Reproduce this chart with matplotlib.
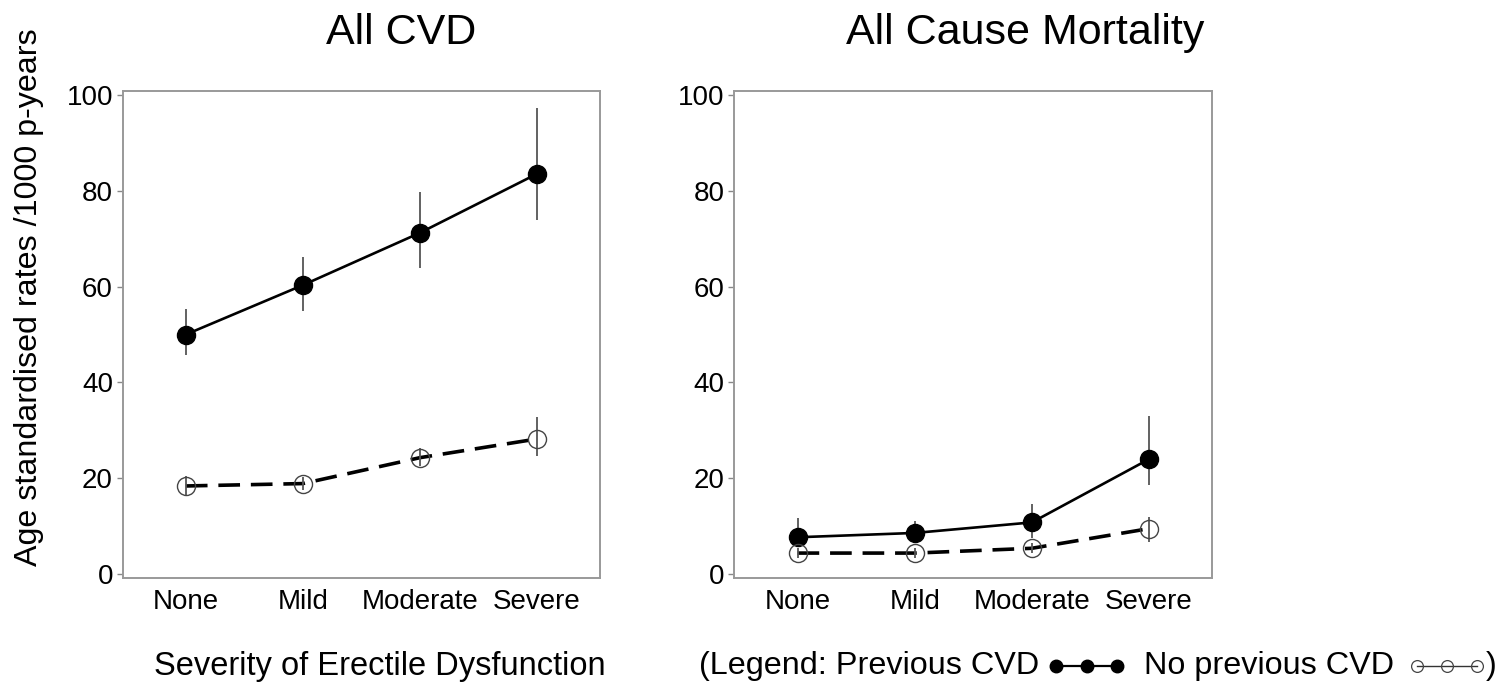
import matplotlib
matplotlib.use("Agg")
import matplotlib.pyplot as plt
from matplotlib.lines import Line2D

plt.rcParams['font.family'] = ['Liberation Sans', 'DejaVu Sans']

# ED severity groups and age standardised rates (/1000 p-years) with 95% CI
severity = ['None', 'Mild', 'Moderate', 'Severe']

cvd_prev = [50.0, 60.3, 71.2, 83.5]
cvd_prev_lo = [45.7, 55.0, 63.9, 73.8]
cvd_prev_hi = [55.3, 66.1, 79.7, 97.3]
cvd_noprev = [18.4, 18.9, 24.3, 28.2]
cvd_noprev_lo = [16.6, 17.5, 22.5, 24.6]
cvd_noprev_hi = [20.4, 20.3, 26.4, 32.8]

mort_prev = [7.7, 8.6, 10.8, 24.0]
mort_prev_lo = [5.8, 6.5, 7.5, 18.6]
mort_prev_hi = [11.7, 11.0, 14.7, 32.9]
mort_noprev = [4.4, 4.4, 5.4, 9.5]
mort_noprev_lo = [3.4, 3.4, 4.4, 6.8]
mort_noprev_hi = [5.4, 5.4, 6.4, 12.0]

W, H = 1502, 691
fig = plt.figure(figsize=(W / 100, H / 100), dpi=100)

def px(x, y):
    return x / W, 1 - y / H

def panel(rect, prev, prev_lo, prev_hi, noprev, noprev_lo, noprev_hi):
    ax = fig.add_axes(rect)
    xs = list(range(1, len(severity) + 1))
    ax.vlines(xs, noprev_lo, noprev_hi, color='#555555', lw=1.3, zorder=3)
    ax.vlines(xs, prev_lo, prev_hi, color='#555555', lw=1.3, zorder=1)
    ax.plot(xs, prev, color='black', lw=1.9, marker='o', ms=13,
            mfc='black', mec='black', zorder=2)
    ax.plot(xs, noprev, color='black', lw=2.6, linestyle=(0, (6, 3)), zorder=2)
    ax.plot(xs, noprev, linestyle='none', marker='o', ms=13, mfc='none',
            mec='#444444', mew=1.0, zorder=4)
    ax.set_xlim(0.46, 4.54)
    ax.set_ylim(-0.8, 100.8)
    ax.set_xticks(xs)
    ax.set_xticklabels(severity, fontsize=20)
    ax.set_yticks(range(0, 101, 20))
    ax.tick_params(axis='x', length=0, pad=8)
    ax.tick_params(axis='y', length=4, width=1, color='#888888', labelsize=20, pad=3)
    for s in ax.spines.values():
        s.set_color('#999999')
        s.set_linewidth(1.4)
    return ax

l, b = px(122.7, 578)
r, t = px(600, 91)
panel([l, b, r - l, t - b], cvd_prev, cvd_prev_lo, cvd_prev_hi,
      cvd_noprev, cvd_noprev_lo, cvd_noprev_hi)

l, b = px(734.3, 578)
r, t = px(1212.3, 91)
panel([l, b, r - l, t - b], mort_prev, mort_prev_lo, mort_prev_hi,
      mort_noprev, mort_noprev_lo, mort_noprev_hi)

# titles and shared labels
fig.text(*px(401, 33), 'All CVD', fontsize=31, ha='center', va='center')
fig.text(*px(1025, 33), 'All Cause Mortality', fontsize=31, ha='center', va='center')
fig.text(*px(29, 297), 'Age standardised rates /1000 p-years', fontsize=23.2,
         rotation=90, ha='center', va='center')
fig.text(*px(380, 666), 'Severity of Erectile Dysfunction', fontsize=23.5,
         ha='center', va='center')

# inline legend
fig.text(*px(699, 666), '(Legend: Previous CVD', fontsize=23.3, ha='left', va='center')
fig.add_artist(Line2D([p / W for p in (1056, 1087, 1117)], [1 - 666 / H] * 3,
                      transform=fig.transFigure, color='black', lw=1.6,
                      marker='o', ms=9, mfc='black', mec='black'))
fig.text(*px(1144, 666), 'No previous CVD', fontsize=23.3, ha='left', va='center')
fig.add_artist(Line2D([p / W for p in (1417, 1447, 1477)], [1 - 666 / H] * 3,
                      transform=fig.transFigure, color='#333333', lw=1.0,
                      marker='o', ms=8.5, mfc='none', mec='#444444', mew=0.9))
fig.text(*px(1486, 666), ')', fontsize=23.3, ha='left', va='center')

fig.savefig('out.png', dpi=100)
